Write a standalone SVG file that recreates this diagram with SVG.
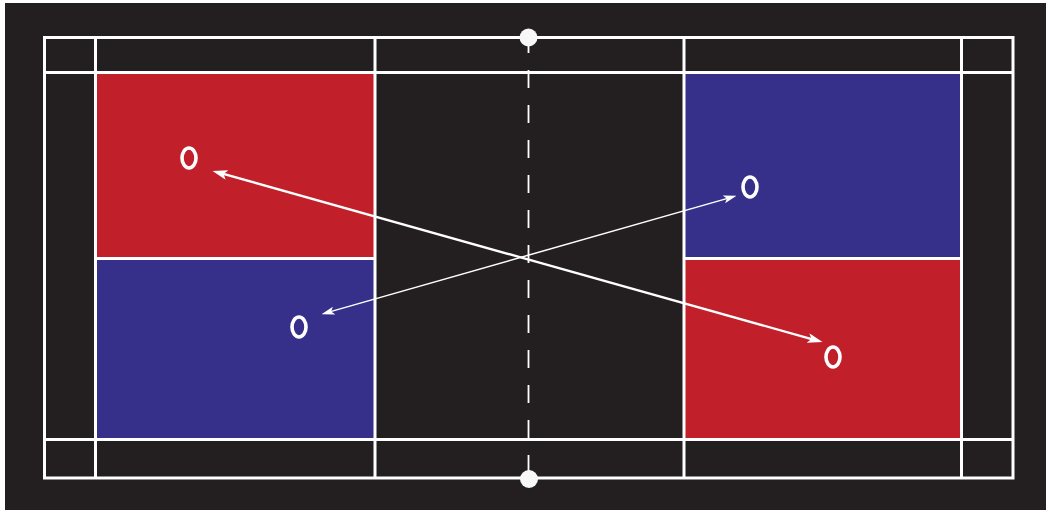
<svg xmlns="http://www.w3.org/2000/svg" width="1046" height="510" viewBox="0 0 1046 510">
  <style>
    .ln { stroke: #ffffff; stroke-width: 3; fill: none; }
    .player { fill: none; stroke: #ffffff; stroke-width: 3.6; }
    .red { fill: #c1202a; }
    .blue { fill: #36308a; }
    .post { fill: #f7f7f7; }
  </style>
  <defs>
    <marker id="headL" markerUnits="userSpaceOnUse" markerWidth="15" markerHeight="10" refX="6.5" refY="5" orient="auto-start-reverse" viewBox="0 0 15 10">
      <path d="M0,0 L15,5 L0,10 L3.5,5 z" fill="#ffffff"/>
    </marker>
    <marker id="headS" markerUnits="userSpaceOnUse" markerWidth="13" markerHeight="8" refX="5.5" refY="4" orient="auto-start-reverse" viewBox="0 0 13 8">
      <path d="M0,0 L13,4 L0,8 L3,4 z" fill="#ffffff"/>
    </marker>
  </defs>
  <rect x="0" y="0" width="1046" height="510" fill="#ffffff"/>
  <rect id="background" x="5" y="3" width="1041" height="507" fill="#231f20"/>
  <g id="zones">
    <rect id="zone-left-top" class="red" x="95.5" y="72.5" width="279.5" height="186"/>
    <rect id="zone-left-bottom" class="blue" x="95.5" y="258.5" width="279.5" height="181"/>
    <rect id="zone-right-top" class="blue" x="684" y="72.5" width="277.5" height="186"/>
    <rect id="zone-right-bottom" class="red" x="684" y="258.5" width="277.5" height="181"/>
  </g>
  <g id="court-lines">
    <rect class="ln" x="44.5" y="37.5" width="968.5" height="440.5"/>
    <line class="ln" x1="44.5" y1="72.5" x2="1013" y2="72.5"/>
    <line class="ln" x1="44.5" y1="439.5" x2="1013" y2="439.5"/>
    <line class="ln" x1="95.5" y1="37.5" x2="95.5" y2="478"/>
    <line class="ln" x1="375" y1="37.5" x2="375" y2="478"/>
    <line class="ln" x1="684" y1="37.5" x2="684" y2="478"/>
    <line class="ln" x1="961.5" y1="37.5" x2="961.5" y2="478"/>
    <line class="ln" x1="95.5" y1="258.5" x2="375" y2="258.5"/>
    <line class="ln" x1="684" y1="258.5" x2="961.5" y2="258.5"/>
  </g>
  <g id="net">
    <line x1="528.5" y1="35" x2="528.5" y2="475" stroke="#ffffff" stroke-width="1.8" stroke-dasharray="18 17"/>
    <circle id="post-top" class="post" cx="528.5" cy="37.5" r="9"/>
    <circle id="post-bottom" class="post" cx="529" cy="479" r="9"/>
  </g>
  <g id="connectors">
    <line x1="220.7" y1="173.2" x2="814.3" y2="339.8" stroke="#ffffff" stroke-width="2.4" marker-start="url(#headL)" marker-end="url(#headL)"/>
    <line x1="328.7" y1="312.1" x2="729.3" y2="197.9" stroke="#ffffff" stroke-width="1.5" marker-start="url(#headS)" marker-end="url(#headS)"/>
  </g>
  <g id="player-1"><ellipse class="player" cx="189" cy="158" rx="7" ry="10"/></g>
  <g id="player-2"><ellipse class="player" cx="299" cy="327" rx="7" ry="10"/></g>
  <g id="player-3"><ellipse class="player" cx="750" cy="187" rx="7" ry="10"/></g>
  <g id="player-4"><ellipse class="player" cx="833" cy="357" rx="7" ry="10"/></g>
</svg>
